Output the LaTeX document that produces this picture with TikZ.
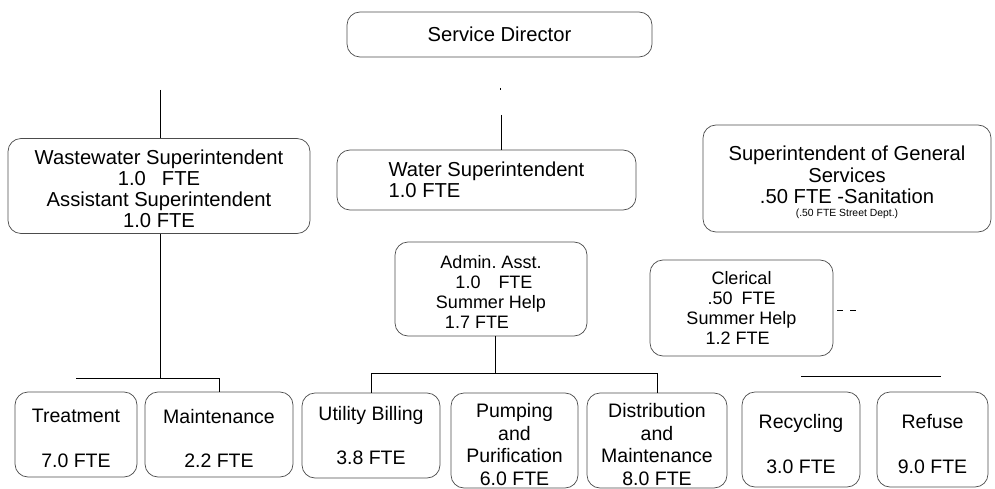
\documentclass[tikz,border=0pt]{standalone}
\usepackage{fontspec}
\setmainfont{Liberation Sans}
\frenchspacing
\begin{document}
\begin{tikzpicture}[x=1pt,y=-1pt,
  box/.style={draw=black!70, line width=0.7pt, rounded corners=13pt, align=center, inner sep=0pt},
  big/.style={font=\fontsize{20.2}{21}\selectfont},
  mid/.style={font=\fontsize{18}{20}\selectfont},
  low/.style={font=\fontsize{19.5}{22.5}\selectfont},
  conn/.style={draw=black, line width=0.8pt}]
\useasboundingbox (0,0) rectangle (995,489);

% top level
\node[box, big, minimum width=305pt, minimum height=45pt] (sd) at (499.5,34.5) {Service Director};

% second level
\node[box, big, minimum width=302pt, minimum height=95pt] (ww) at (159,186)
  {\\[0pt]Wastewater Superintendent\\1.0\hspace{16pt}FTE\\Assistant Superintendent\\1.0 FTE};
\node[box, big, minimum width=299pt, minimum height=60pt, align=left] (water) at (486.5,180)
  {Water Superintendent\\1.0 FTE};
\node[box, big, minimum width=288pt, minimum height=107pt] (gs) at (847,178.5)
  {\\[2pt]Superintendent of General\\[1pt]Services\\.50 FTE -Sanitation\\[-8pt]{\fontsize{10.4}{12}\selectfont(.50 FTE Street Dept.)}};

% assistants
\node[box, mid, minimum width=192pt, minimum height=94pt] (admin) at (491,289)
  {\\[-2pt]Admin. Asst.\\\hspace*{6pt}1.0\hspace{18pt}FTE\\Summer Help\\1.7 FTE\hspace*{28pt}};
\node[box, mid, minimum width=183pt, minimum height=96pt] (cler) at (741.5,308)
  {Clerical\\.50\hspace{9pt}FTE\\Summer Help\\\hspace*{-8pt}1.2 FTE};

% bottom level
\node[box, low, minimum width=122pt, minimum height=85pt] (treat) at (76,434.5) {\\[-1pt]Treatment\\[22pt]7.0 FTE};
\node[box, low, minimum width=148pt, minimum height=85pt] (maint) at (219,434.5) {\\[-1pt]Maintenance\\[22pt]2.2 FTE};
\node[box, low, minimum width=138pt, minimum height=85pt] (bill) at (371,435.5) {Utility Billing\\[22pt]3.8 FTE};
\node[box, low, minimum width=127pt, minimum height=95pt] (pump) at (514.5,440.5) {\\[0pt]Pumping\\and\\Purification\\6.0 FTE};
\node[box, low, minimum width=140pt, minimum height=95pt] (dist) at (657,440.5) {\\[0pt]Distribution\\and\\Maintenance\\8.0 FTE};
\node[box, low, minimum width=118pt, minimum height=95pt] (recy) at (801,439.5) {\\[1pt]Recycling\\[22pt]3.0 FTE};
\node[box, low, minimum width=111pt, minimum height=95pt] (refu) at (932.5,439.5) {\\[1pt]Refuse\\[22pt]9.0 FTE};

% connector fragments
\coordinate (wwtop) at (160,90);
\coordinate (wwbus) at (160,378);
\coordinate (wtop) at (501,115);
\coordinate (dot1) at (500,88);
\coordinate (dot2) at (500,90);
\coordinate (abus) at (495,373);
\coordinate (gbus) at (941,376);
\coordinate (d1a) at (837,310);
\coordinate (d1b) at (843,310);
\coordinate (d2a) at (850,310);
\coordinate (d2b) at (856,310);

\draw[conn] (wwtop) -- (ww.north -| wwtop);
\draw[conn] (ww.south -| wwtop) -- (wwbus);
\draw[conn] (treat.north |- wwbus) -- (maint.north |- wwbus) -- (maint.north);

\draw[conn, line width=0.5pt] (dot1) -- (dot2);
\draw[conn] (wtop) -- (water.north -| wtop);

\draw[conn] (admin.south -| abus) -- (abus);
\draw[conn] (bill.north) -- (bill.north |- abus) -- (dist.north |- abus) -- (dist.north);

\draw[conn] (recy.north |- gbus) -- (gbus);

\draw[conn] (d1a) -- (d1b);
\draw[conn] (d2a) -- (d2b);
\end{tikzpicture}
\end{document}
